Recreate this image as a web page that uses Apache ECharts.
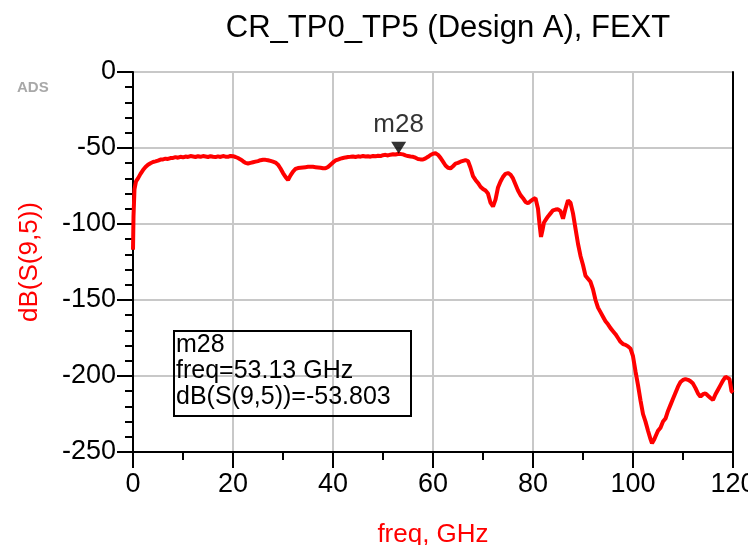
<!DOCTYPE html>
<html>
<head>
<meta charset="utf-8">
<script src="https://cdn.jsdelivr.net/npm/echarts@6/dist/echarts.min.js"></script>
<style>html,body{margin:0;padding:0;background:#fff}#c{width:748px;height:545px}</style>
</head>
<body>
<div id="c"></div>
<script>
var freqGHz = [
  0,0.1,0.3,0.6,1,1.5,2,
  2.5,3,3.5,4,4.5,5,5.5,6,6.5,7,
  7.5,8,8.5,9,9.5,10,10.5,11,11.5,12,
  12.5,13,13.5,14,14.5,15,15.5,16,16.5,17,
  17.5,18,18.5,19,19.5,20,20.5,21,21.5,22,
  22.5,23,23.5,24,24.5,25,25.5,26,26.5,27,
  27.5,28,28.5,29,29.5,30,30.5,31,31.5,32,
  32.5,33,33.5,34,34.5,35,35.5,36,36.5,37,
  37.5,38,38.5,39,39.5,40,40.5,41,41.5,42,
  42.5,43,43.5,44,44.5,45,45.5,46,46.5,47,
  47.5,48,48.5,49,49.5,50,50.5,51,51.5,52,
  52.5,53.13,
  53.5,54,54.5,55,55.5,56,56.5,57,57.5,58,
  58.5,59,59.5,60,60.5,61,61.5,62,62.5,63,
  63.5,64,64.5,65,65.5,66,66.5,67,67.5,68,
  68.5,69,69.5,70,70.5,71,71.5,72,72.5,73,
  73.5,74,74.5,75,75.5,76,76.5,77,77.5,78,
  78.5,79,79.5,80,80.5,81,
  81.3,81.6,81.9,82.2,82.5,
  83,83.5,84,84.5,85,85.5,86,86.5,87,87.5,
  88,88.5,89,89.5,90,90.5,91,91.5,92,92.5,
  93,93.5,94,94.5,95,95.5,96,96.5,97,97.5,
  98,98.5,99,99.5,100,100.5,101,101.5,102,102.5,
  103,103.5,
  103.8,104.2,104.6,
  105,105.5,106,106.5,107,107.5,108,108.5,109,109.5,
  110,110.5,111,111.5,112,112.5,113,113.5,114,114.5,
  115,115.5,116,116.5,117,117.5,118,118.5,
  118.9,119.3,119.7,120
];
var dbS95 = [
  -117,-95,-77,-72,-70,-67,-64.5,
  -62.5,-61,-60,-59.2,-58.8,-58.3,-57.6,-57.5,-57,-57.2,
  -56.6,-56.5,-56,-56.4,-55.8,-56.2,-55.6,-55.9,-55.3,-55.6,
  -55.9,-55.4,-55.8,-55.3,-55.6,-55.9,-55.4,-55.8,-56,-55.5,
  -55.9,-55.3,-55.7,-55.8,-55.2,-55.4,-55.9,-56.6,-57.5,-58.7,
  -59.8,-60.2,-59.8,-59.4,-59,-58.6,-58,-57.7,-57.8,-58.1,
  -58.5,-59,-59.6,-61,-63.5,-66.5,-69,-71,-68,-65.5,
  -63.8,-63.2,-63,-62.8,-62.6,-62.4,-62.3,-62.4,-62.6,-62.8,
  -63,-63.3,-63.4,-62.5,-61,-59.5,-58.2,-57.6,-57,-56.6,
  -56.2,-55.9,-55.8,-55.6,-55.9,-55.5,-55.7,-55.3,-55.6,-55.4,
  -55.7,-55.3,-55.5,-55.1,-55.3,-54.7,-54.5,-54.9,-54.4,-54.1,
  -54.3,-53.803,
  -53.6,-54.2,-54.8,-55.3,-55.6,-55.8,-56.4,-57.2,-57.5,-57.6,
  -56.8,-55.8,-54.6,-53.8,-53.5,-54.5,-56.5,-59,-61.5,-63,
  -63.4,-62,-60.3,-59.8,-59,-58.5,-58,-58.6,-63,-68.5,
  -71,-73,-75.5,-77,-78,-80,-86,-88.5,-84,-76,
  -72,-69,-67,-66.5,-67.5,-70,-74,-78,-81,-83,
  -85.5,-86.4,-85,-83.8,-83,-90,
  -100,-108.5,-104,-99,-97.5,
  -95,-93,-91,-90.5,-90.3,-91.5,-96.5,-90,-84.5,-86,
  -93,-103,-113,-121,-127,-134,-136,-138,-143,-150,
  -155,-158,-161,-164,-166,-168.5,-170.5,-172.5,-175,-177.5,
  -179,-179.5,-180.5,-182,-187,-197,-206,-216,-225,-230,
  -236,-241.5,
  -244.3,-242,-239,
  -236,-234,-230,-228,-223,-219,-215,-211,-207,-204,
  -202.6,-202,-202.5,-203.5,-205,-208,-211.5,-213.6,-212,-211.4,
  -213,-214.5,-215.8,-212,-209,-206,-203,-200.5,
  -199.3,-202,-210,-211
];
var markerName = "m28";
var markerFreq = 53.13;
var markerDb = -53.803;
var xTicks = [0,20,40,60,80,100,120];
var yTicks = [0,-50,-100,-150,-200,-250];
var titleText = "CR_TP0_TP5 (Design A), FEXT";
var xName = "freq, GHz";
var yName = "dB(S(9,5))";
var boxLines = [markerName, "freq=" + markerFreq.toFixed(2) + " GHz", "dB(S(9,5))=" + markerDb.toFixed(3)];

var FONT = "'Liberation Sans', Arial, sans-serif";
var lineData = freqGHz.map(function (f, i) { return [f, dbS95[i]]; });

var chart = echarts.init(document.getElementById('c'), null, {renderer: 'canvas'});
chart.setOption({
  animation: false,
  backgroundColor: '#ffffff',
  title: {
    text: titleText, left: 443, top: 8, textAlign: 'center',
    textStyle: {fontFamily: FONT, fontSize: 31, fontWeight: 'normal', color: '#000'}
  },
  grid: {left: 133, right: 15, top: 72, bottom: 93, containLabel: false, outerBoundsMode: 'none'},
  xAxis: {
    type: 'value', min: xTicks[0], max: xTicks[xTicks.length - 1], interval: 20,
    name: xName, nameLocation: 'middle', nameGap: 70,
    nameTextStyle: {fontFamily: FONT, fontSize: 26, color: '#ff0000'},
    axisLine: {show: true, onZero: false, lineStyle: {color: '#000', width: 2}},
    axisTick: {show: true, length: 16, lineStyle: {color: '#000', width: 2}},
    minorTick: {show: true, splitNumber: 2, length: 8, lineStyle: {color: '#000', width: 2}},
    axisLabel: {fontFamily: FONT, fontSize: 27, color: '#000', margin: 19, showMaxLabel: true, hideOverlap: false},
    splitLine: {show: true, lineStyle: {color: '#c8c8c8', width: 2}}
  },
  yAxis: [{
    type: 'value', min: yTicks[yTicks.length - 1], max: yTicks[0], interval: 50,
    name: yName, nameLocation: 'middle', nameGap: 90, nameRotate: 90,
    nameTextStyle: {fontFamily: FONT, fontSize: 26, color: '#ff0000'},
    axisLine: {show: true, onZero: false, lineStyle: {color: '#000', width: 2}},
    axisTick: {show: true, length: 16, lineStyle: {color: '#000', width: 2}},
    minorTick: {show: true, splitNumber: 5, length: 8, lineStyle: {color: '#000', width: 2}},
    axisLabel: {fontFamily: FONT, fontSize: 27, color: '#000', margin: 17},
    splitLine: {show: true, lineStyle: {color: '#c8c8c8', width: 2}}
  }, {
    type: 'value', position: 'right', min: yTicks[yTicks.length - 1], max: yTicks[0], interval: 50,
    axisLine: {show: true, onZero: false, lineStyle: {color: '#000', width: 2}},
    axisTick: {show: false}, axisLabel: {show: false}, splitLine: {show: false}
  }],
  graphic: [
    {type: 'text', left: 17, top: 80, style: {text: 'ADS', font: 'bold 15px ' + FONT, fill: '#a8a8a8'}},
    {type: 'rect', left: 173, top: 330, shape: {width: 237, height: 85},
      style: {fill: 'transparent', stroke: '#000', lineWidth: 2}, z: 100},
    {type: 'text', left: 176, top: 332, z: 101,
      style: {text: boxLines.join('\n'), font: '25px ' + FONT, fill: '#000', lineHeight: 26}}
  ],
  series: [{
    type: 'line', data: lineData, showSymbol: false, symbol: 'none',
    lineStyle: {color: '#ff0000', width: 4}, z: 3, clip: true
  }, {
    type: 'scatter', data: [[markerFreq, markerDb]], symbol: 'triangle', symbolRotate: 180,
    symbolSize: [15, 12], symbolOffset: [0, -6], itemStyle: {color: '#000'}, z: 5,
    label: {show: true, position: 'top', distance: 4, formatter: markerName,
      fontFamily: FONT, fontSize: 26, color: '#000'}
  }]
});
</script>
</body>
</html>
